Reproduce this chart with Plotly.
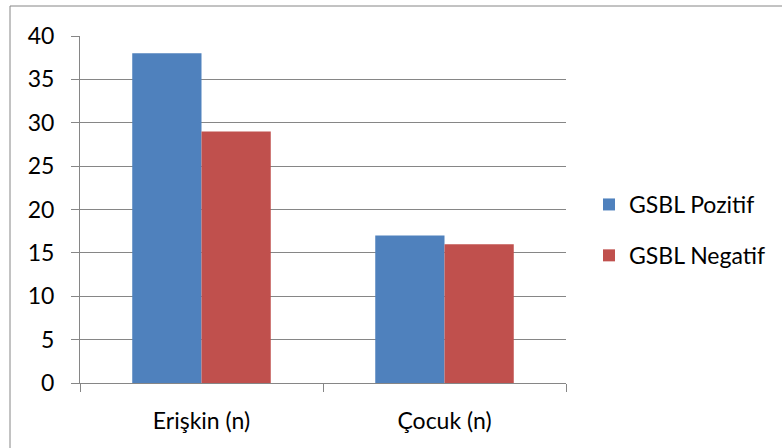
import plotly.graph_objects as go

categories = ["Erişkin (n)", "Çocuk (n)"]
series_names = ["GSBL Pozitif", "GSBL Negatif"]
pozitif = [38, 17]
negatif = [29, 16]
y_ticks = [0, 5, 10, 15, 20, 25, 30, 35, 40]

W, H = 782, 448
L, R, T, B = 80, 566, 36, 383
pw, ph = R - L, B - T

FONT = "Lato, 'Open Sans', sans-serif"
FS = 23
GRID = "#868686"

fig = go.Figure()
fig.add_trace(go.Bar(x=categories, y=pozitif, name=series_names[0],
                     marker=dict(color="#4F81BD", line=dict(width=0)),
                     legendgroup="a"))
fig.add_trace(go.Bar(x=categories, y=negatif, name=series_names[1],
                     marker=dict(color="#C0504D", line=dict(width=0)),
                     legendgroup="b"))

def px_x(p):
    return (p - L) / pw

def px_y(p):
    return (B - p) / ph

fig.update_layout(
    width=W, height=H,
    margin=dict(l=L, r=W - R, t=T, b=H - B, pad=0),
    paper_bgcolor="white", plot_bgcolor="white",
    barmode="group", bargap=0.43, bargroupgap=0,
    font=dict(family=FONT, size=FS, color="#000000"),
    showlegend=True,
    legend=dict(x=px_x(589), y=px_y(230), xanchor="left", yanchor="middle",
                font=dict(family=FONT, size=FS, color="#000000"),
                traceorder="grouped", tracegroupgap=18,
                bgcolor="rgba(0,0,0,0)"),
    xaxis=dict(showgrid=False, showline=True, linecolor=GRID, linewidth=1,
               ticks="outside", tickson="boundaries", ticklen=8,
               tickcolor=GRID, ticklabelstandoff=17,
               tickfont=dict(family=FONT, size=FS, color="#000000")),
    yaxis=dict(range=[0, 40], tickvals=y_ticks, showgrid=True,
               gridcolor=GRID, gridwidth=1, showline=True, linecolor=GRID,
               linewidth=1, ticks="outside", ticklen=8, tickcolor=GRID,
               ticklabelstandoff=12, zeroline=False,
               tickfont=dict(family=FONT, size=FS, color="#000000")),
    shapes=[dict(type="rect", xref="paper", yref="paper",
                 x0=px_x(10), x1=px_x(800), y0=px_y(470), y1=px_y(6),
                 line=dict(color=GRID, width=1), fillcolor="rgba(0,0,0,0)",
                 layer="below")],
)

fig.write_html("out.html", config={"displayModeBar": False},
               post_script="document.body.style.margin='0';document.body.style.overflow='hidden';")
